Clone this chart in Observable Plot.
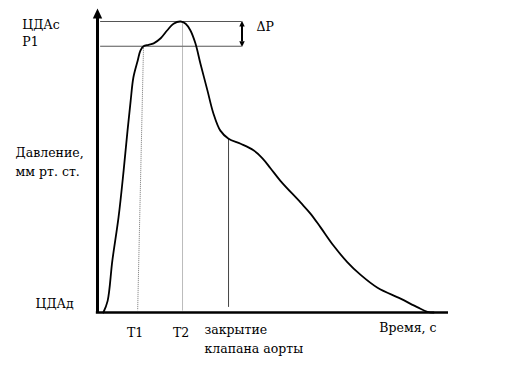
<!DOCTYPE html>
<html>
<head>
<meta charset="utf-8">
<script src="https://cdn.jsdelivr.net/npm/d3@7"></script>
<script src="https://cdn.jsdelivr.net/npm/@observablehq/plot@0.6"></script>
<style>
  html, body { margin: 0; padding: 0; background: white; }
  #chart svg { display: block; }
</style>
</head>
<body>
<div id="chart"></div>
<script>
// Central aortic pressure waveform (schematic), time in s, pressure in mm Hg
const time = [0.015, 0.026, 0.038, 0.054, 0.067, 0.077, 0.085, 0.092, 0.103, 0.110,
  0.118, 0.131, 0.144, 0.162, 0.179, 0.195, 0.213, 0.226, 0.238, 0.251,
  0.264, 0.282, 0.297, 0.315, 0.336, 0.367, 0.400, 0.423, 0.444, 0.469,
  0.521, 0.546, 0.572, 0.605, 0.641, 0.674, 0.718, 0.777, 0.821, 0.846, 0.862];
const pressure = [80, 81.6, 87.1, 93.1, 99.5, 105.0, 109.1, 112.3, 114.6, 116.0,
  116.6, 116.8, 117.0, 117.7, 118.8, 119.7, 120, 119.7, 118.8, 117.0,
  114.2, 110.5, 107.4, 105.0, 103.9, 103.2, 102.3, 101.2, 99.8, 98.1,
  95.1, 93.6, 91.7, 89.2, 86.9, 85.2, 83.4, 81.9, 80.7, 80.1, 80];

// Levels
const levelNames = ["ЦДАс", "P1", "ЦДАд"];
const levelValues = [120, 116.6, 80];

// Time markers (T1 point on the curve, T2 at peak, valve closure)
const markerNames = ["T1", "T2", "закрытие\nклапана аорты"];
const markerTopTimes = [0.118, 0.218, 0.336];
const markerBottomTimes = [0.103, 0.218, 0.336];
const markerTopValues = [116.6, 120, 103.9];
const markerBottomValues = [80.3, 80.3, 80.7];

const yLabel = "Давление,\nмм рт. ст.";
const xLabel = "Время, с";
const deltaLabel = "ΔP";

const tMax = 0.9;
const deltaTime = 0.3705;

const curveData = time.map((t, i) => ({t, p: pressure[i]}));
const dotted = [0, 1].map(i => ({x1: markerTopTimes[i], y1: markerTopValues[i], x2: markerBottomTimes[i], y2: markerBottomValues[i]}));

const arrowHead = {
  draw(ctx, size) {
    const h = Math.sqrt(size / Math.PI) * 2;
    const w = h * 0.47;
    ctx.moveTo(0, 0);
    ctx.lineTo(w, h);
    ctx.lineTo(-w, h);
    ctx.closePath();
  }
};

const serif = "DejaVu Serif";
const font = {fontFamily: serif, fontSize: 12.5, fill: "black", lineAnchor: "bottom"};

const chart = Plot.plot({
  width: 512,
  height: 388,
  style: {fontFamily: serif, fontSize: "12.5px", background: "white", color: "black"},
  x: {domain: [0, tMax], range: [97, 448], axis: null},
  y: {domain: [80, 120], range: [312, 21], axis: null},
  marks: [
    // level lines ЦДАс and P1
    Plot.ruleY([levelValues[0], levelValues[1]], {x1: 0.008, x2: deltaTime, stroke: "#555", strokeWidth: 1}),
    // dotted T1, T2
    Plot.link(dotted, {x1: "x1", y1: "y1", x2: "x2", y2: "y2", stroke: "#777", strokeWidth: 1, strokeDasharray: "1,1"}),
    // valve closure line
    Plot.ruleX([markerTopTimes[2]], {y1: markerBottomValues[2], y2: markerTopValues[2], stroke: "#444", strokeWidth: 1}),
    // curve
    Plot.line(curveData, {x: "t", y: "p", curve: "catmull-rom", stroke: "black", strokeWidth: 1.8}),
    // axes
    Plot.ruleY([80], {x1: -0.003, x2: tMax, stroke: "black", strokeWidth: 2.5}),
    Plot.ruleX([0], {y1: 79.85, y2: 121, stroke: "black", strokeWidth: 3}),
    Plot.dot([0], {x: 0, y: 121.79, symbol: arrowHead, r: 5, fill: "black", stroke: "none"}),
    // ΔP double arrow
    Plot.ruleX([deltaTime], {y1: 119.5, y2: 117.2, stroke: "black", strokeWidth: 2}),
    Plot.dot([0], {x: deltaTime, y: 120.1, symbol: arrowHead, r: 2.9, fill: "black", stroke: "none"}),
    Plot.dot([0], {x: deltaTime, y: 116.5, symbol: arrowHead, r: 2.9, rotate: 180, fill: "black", stroke: "none"}),
    Plot.text([deltaLabel], {x: deltaTime, y: levelValues[0], text: d => d, textAnchor: "start", dx: 14.5, dy: 9, ...font}),
    // level labels
    Plot.text([0], {x: -0.193, y: i => levelValues[i], text: i => levelNames[i], textAnchor: "start", dy: 7, ...font}),
    Plot.text([1], {x: -0.193, y: i => levelValues[i], text: i => levelNames[i], textAnchor: "start", dy: 0, ...font}),
    Plot.text([2], {x: -0.159, y: i => levelValues[i], text: i => levelNames[i], textAnchor: "start", dy: -5, ...font}),
    // y label
    Plot.text([yLabel], {x: -0.21, y: 98.8, text: d => d, textAnchor: "start", lineHeight: 1.52, ...font}),
    // time marker labels
    Plot.text([0], {x: i => markerBottomTimes[i], y: 80, text: i => markerNames[i], textAnchor: "middle", dx: -2.5, dy: 24, ...font}),
    Plot.text([1], {x: i => markerBottomTimes[i], y: 80, text: i => markerNames[i], textAnchor: "middle", dx: -1.5, dy: 24, ...font}),
    Plot.text([2], {x: i => markerBottomTimes[i], y: 80, text: i => markerNames[i], textAnchor: "start", dx: -24, dy: 40, lineHeight: 1.52, ...font}),
    // x label
    Plot.text([xLabel], {x: tMax, y: 80, text: d => d, textAnchor: "end", dx: -12, dy: 19, ...font})
  ]
});
document.getElementById("chart").appendChild(chart);
</script>
</body>
</html>
